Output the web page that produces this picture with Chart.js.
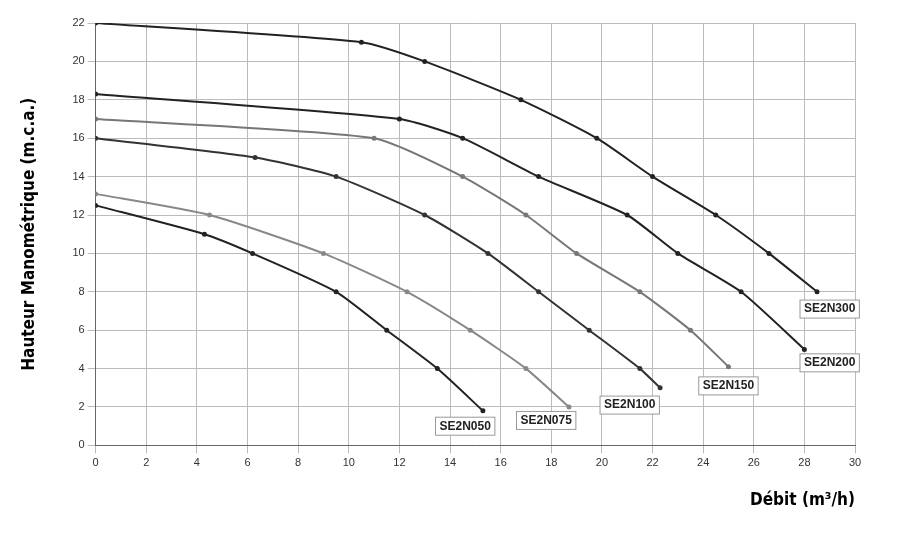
<!DOCTYPE html>
<html><head><meta charset="utf-8">
<script src="https://cdn.jsdelivr.net/npm/chart.js@4"></script>
<style>body{margin:0;background:#fff}#w{width:910px;height:538px}</style>
</head><body><div id="w"><canvas id="c"></canvas></div>
<script>
const names=["SE2N300","SE2N200","SE2N150","SE2N100","SE2N075","SE2N050"];
const s300=[[0,22],[10.5,21],[13,20],[16.8,18],[19.8,16],[22,14],[24.5,12],[26.6,10],[28.5,8]];
const s200=[[0,18.3],[12,17],[14.5,16],[17.5,14],[21,12],[23,10],[25.5,8],[28,5]];
const s150=[[0,17],[11,16],[14.5,14],[17,12],[19,10],[21.5,8],[23.5,6],[25,4.1]];
const s100=[[0,16],[6.3,15],[9.5,14],[13,12],[15.5,10],[17.5,8],[19.5,6],[21.5,4],[22.3,3]];
const s075=[[0,13.1],[4.5,12],[9,10],[12.3,8],[14.8,6],[17,4],[18.7,2]];
const s050=[[0,12.5],[4.3,11],[6.2,10],[9.5,8],[11.5,6],[13.5,4],[15.3,1.8]];
const colors=["#222","#222","#777","#333","#888","#222"];
const labelPos=[[29,7.1],[29,4.3],[25,3.1],[21.1,2.1],[17.8,1.3],[14.6,1.0]];
const series=[s300,s200,s150,s100,s075,s050];
const labels=names.map((n,i)=>({text:n,x:labelPos[i][0],y:labelPos[i][1]}));
const boxes={id:'boxes',afterDatasetsDraw(ch){const c=ch.ctx,xs=ch.scales.x,ys=ch.scales.y;c.save();c.font='bold 12px "Liberation Sans"';c.textAlign='center';c.textBaseline='middle';
labels.forEach(l=>{const x=xs.getPixelForValue(l.x),y=ys.getPixelForValue(l.y);const w=c.measureText(l.text).width+8;c.fillStyle='#fff';c.fillRect(x-w/2,y-9,w,18);c.strokeStyle='#999';c.lineWidth=1;c.strokeRect(x-w/2,y-9,w,18);c.fillStyle='#222';c.fillText(l.text,x,y);});c.restore();}};
new Chart(document.getElementById('c'),{type:'scatter',
data:{datasets:series.map((s,i)=>({label:names[i],data:s.map(p=>({x:p[0],y:p[1]})),showLine:true,borderColor:colors[i],backgroundColor:colors[i],borderWidth:2,pointRadius:1.5,tension:0.2}))},
options:{responsive:true,maintainAspectRatio:false,animation:false,
layout:{padding:{left:15,right:55,top:23,bottom:23}},
plugins:{legend:{display:false},tooltip:{enabled:false}},
scales:{x:{min:0,max:30,ticks:{stepSize:2,color:'#333',font:{size:11}},grid:{color:'#bbb'},border:{color:'#666'},
title:{display:true,text:'Débit (m³/h)',align:'end',color:'#000',font:{family:'"Liberation Sans Narrow","DejaVu Sans Condensed","Liberation Sans"',weight:'bold',size:17},padding:{top:18}}},
y:{min:0,max:22,ticks:{stepSize:2,color:'#333',font:{size:11}},grid:{color:'#bbb'},border:{color:'#666'},
title:{display:true,text:'Hauteur Manométrique (m.c.a.)',color:'#000',font:{family:'"Liberation Sans Narrow","DejaVu Sans Condensed","Liberation Sans"',weight:'bold',size:17},padding:{bottom:30}}}}},
plugins:[boxes]});
</script></body></html>
